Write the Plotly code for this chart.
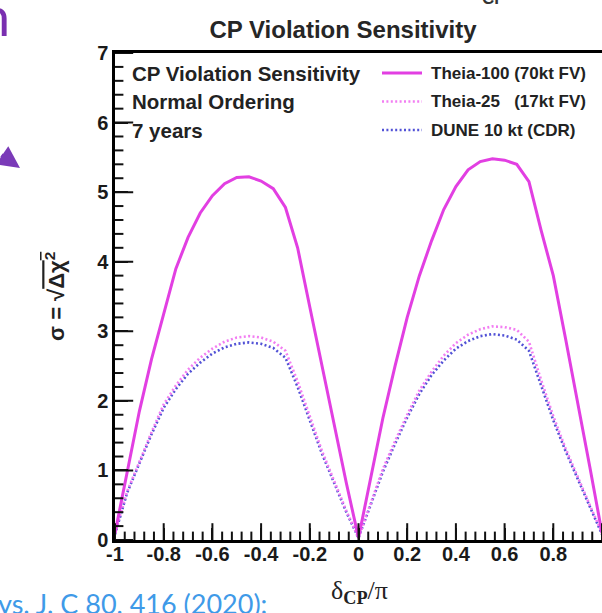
import plotly.graph_objects as go

# ---------------- data ----------------
delta_cp = [-1.00, -0.95, -0.90, -0.85, -0.80, -0.75, -0.70, -0.65, -0.60, -0.55,
            -0.50, -0.45, -0.40, -0.35, -0.30, -0.25, -0.20, -0.15, -0.10, -0.05,
            0.00, 0.05, 0.10, 0.15, 0.20, 0.25, 0.30, 0.35, 0.40, 0.45,
            0.50, 0.55, 0.60, 0.65, 0.70, 0.75, 0.80, 0.85, 0.90, 0.95, 1.00]

theia100 = [0.10, 1.00, 1.85, 2.60, 3.25, 3.90, 4.35, 4.70, 4.95, 5.12,
            5.21, 5.22, 5.16, 5.05, 4.78, 4.20, 3.35, 2.50, 1.65, 0.82,
            0.03, 0.90, 1.75, 2.50, 3.20, 3.80, 4.30, 4.75, 5.08, 5.32,
            5.44, 5.48, 5.46, 5.40, 5.15, 4.45, 3.80, 2.90, 2.00, 1.05, 0.10]

theia25 = [0.10, 0.70, 1.12, 1.55, 1.95, 2.22, 2.45, 2.62, 2.75, 2.85,
           2.91, 2.93, 2.91, 2.85, 2.72, 2.28, 1.78, 1.28, 0.85, 0.42,
           0.03, 0.52, 1.02, 1.42, 1.80, 2.15, 2.42, 2.65, 2.83, 2.95,
           3.03, 3.07, 3.06, 3.02, 2.85, 2.30, 1.78, 1.32, 0.90, 0.50, 0.10]

dune10 = [0.08, 0.68, 1.10, 1.52, 1.90, 2.17, 2.39, 2.55, 2.68, 2.77,
          2.82, 2.84, 2.82, 2.76, 2.62, 2.20, 1.72, 1.24, 0.82, 0.40,
          0.03, 0.50, 0.98, 1.38, 1.76, 2.10, 2.37, 2.58, 2.75, 2.86,
          2.93, 2.96, 2.94, 2.88, 2.72, 2.22, 1.72, 1.28, 0.87, 0.48, 0.08]

series_names = ["Theia-100 (70kt FV)", "Theia-25   (17kt FV)", "DUNE 10 kt (CDR)"]
info_lines = ["CP Violation Sensitivity", "Normal Ordering", "7 years"]

x_tickvals = [-1, -0.8, -0.6, -0.4, -0.2, 0, 0.2, 0.4, 0.6, 0.8, 1]
x_ticktext = ["-1", "-0.8", "-0.6", "-0.4", "-0.2", "0", "0.2", "0.4", "0.6", "0.8", "1"]
y_tickvals = [0, 1, 2, 3, 4, 5, 6, 7]

# minor tick positions (5 subdivisions between labelled ticks)
x_minor = [round(-1 + 0.04 * i, 2) for i in range(51) if i % 5]
y_minor = [round(0.2 * i, 1) for i in range(36) if i % 5]

# ---------------- layout geometry ----------------
W, H = 602, 613
L, R, T, B = 115, 0, 53, 73
PW, PH = W - L - R, H - T - B

def px(xp):
    return (xp - L) / PW

def py(yp):
    return (H - B - yp) / PH

C100 = "#e23fe2"
C25 = "#f27ef2"
CDUNE = "#5252d6"
TICKC = "#111"

fig = go.Figure()
fig.add_trace(go.Scatter(x=delta_cp, y=dune10, mode="lines", name=series_names[2],
                         line=dict(color=CDUNE, width=2.6, dash="2px,2.4px")))
fig.add_trace(go.Scatter(x=delta_cp, y=theia25, mode="lines", name=series_names[1],
                         line=dict(color=C25, width=2.6, dash="2px,2.4px")))
fig.add_trace(go.Scatter(x=delta_cp, y=theia100, mode="lines", name=series_names[0],
                         line=dict(color=C100, width=3)))

# inward tick marks on the frame (half of each marker is clipped by the axes)
def tick_marks(xs, ys, symbol, size):
    fig.add_trace(go.Scatter(x=xs, y=ys, mode="markers", hoverinfo="skip", showlegend=False,
                             cliponaxis=True,
                             marker=dict(symbol=symbol, size=size, color=TICKC,
                                         line=dict(width=2, color=TICKC))))

tick_marks(x_tickvals, [0] * len(x_tickvals), "line-ns", 24)
tick_marks(x_minor, [0] * len(x_minor), "line-ns", 12)
tick_marks([-1] * len(y_tickvals), y_tickvals, "line-ew", 26)
tick_marks([-1] * len(y_minor), y_minor, "line-ew", 12)

tickfont = dict(family="Liberation Sans, Arial, sans-serif", size=20, color="#1a1a1a", weight="bold")

fig.update_layout(
    template="none",
    width=W, height=H,
    margin=dict(l=L, r=R, t=T, b=B, autoexpand=False),
    paper_bgcolor="white", plot_bgcolor="white",
    showlegend=False,
    title=dict(text="<b>CP Violation Sensitivity</b>", x=343 / W, xanchor="center",
               y=1 - 30 / H, yanchor="middle", yref="container",
               font=dict(family="Liberation Sans, Arial, sans-serif", size=24, color="#262626")),
    xaxis=dict(range=[-1, 1], tickmode="array", tickvals=x_tickvals, ticktext=x_ticktext,
               ticks="inside", ticklen=12, tickwidth=2, tickcolor=TICKC, ticklabelstandoff=-6,
               showline=True, linecolor="black", linewidth=2.5, mirror=True,
               showgrid=False, zeroline=False, tickfont=tickfont),
    yaxis=dict(range=[0, 7], tickmode="array", tickvals=y_tickvals,
               ticks="inside", ticklen=13, tickwidth=2, tickcolor=TICKC,
               showline=True, linecolor="black", linewidth=2.5,
               showgrid=False, zeroline=False, tickfont=tickfont),
)

ann = []
# info text block
for i, t in enumerate(info_lines):
    ann.append(dict(x=px(130), y=py(73 + 28.5 * i), xref="paper", yref="paper",
                    text=f"<b>{t}</b>", showarrow=False, xanchor="left", yanchor="middle",
                    font=dict(family="Liberation Sans, Arial, sans-serif", size=20.5, color="#222")))
# legend
leg_colors = [C100, C25, CDUNE]
leg_dash = ["solid", "dot", "dot"]
shapes = []
for i, (nm, c, d) in enumerate(zip(series_names, leg_colors, leg_dash)):
    yy = 73 + 28.5 * i
    shapes.append(dict(type="line", xref="paper", yref="paper", x0=px(382), x1=px(422),
                       y0=py(yy), y1=py(yy),
                       line=dict(color=c, width=3 if d == "solid" else 2.4,
                                 dash="solid" if d == "solid" else "2px,2.4px")))
    ann.append(dict(x=px(429), y=py(yy), xref="paper", yref="paper",
                    text=f"<b>{nm}</b>", showarrow=False, xanchor="left", yanchor="middle",
                    font=dict(family="Liberation Sans, Arial, sans-serif", size=17, color="#222")))

# axis titles
ann.append(dict(x=px(359), y=py(592), xref="paper", yref="paper",
                text="δ<sub><b>CP</b></sub>/π", showarrow=False, xanchor="center", yanchor="middle",
                font=dict(family="Liberation Serif, Times New Roman, serif", size=26, color="#222")))
ann.append(dict(x=px(55), y=py(297), xref="paper", yref="paper", textangle=-90,
                text="<b>σ = √<span style='text-decoration:overline'>Δχ<sup>2</sup></span></b>",
                showarrow=False, xanchor="center", yanchor="middle",
                font=dict(family="Liberation Sans, Arial, sans-serif", size=22, color="#222")))

# slide fragments around the chart
ann.append(dict(x=px(12), y=py(15), xref="paper", yref="paper", text="n", showarrow=False,
                xanchor="right", yanchor="middle",
                font=dict(family="Lato, sans-serif", size=54, color="#7a2fb0")))
ann.append(dict(x=px(20), y=py(168), ax=-32, ay=-14, xref="paper", yref="paper",
                axref="pixel", ayref="pixel", text="", showarrow=True, arrowhead=2,
                arrowsize=1.1, arrowwidth=4, arrowcolor="#7a3ab8"))
ann.append(dict(x=px(-4), y=py(603), xref="paper", yref="paper",
                text="ys. J. C 80, 416 (2020):", showarrow=False, xanchor="left", yanchor="middle",
                font=dict(family="Lato, sans-serif", size=27, color="#3f9ae8")))
ann.append(dict(x=px(494), y=py(-2), xref="paper", yref="paper", text="<b>CP</b>", showarrow=False,
                xanchor="center", yanchor="middle",
                font=dict(family="Liberation Sans, Arial, sans-serif", size=17, color="#333")))

fig.update_layout(annotations=ann, shapes=shapes)
fig.write_html("out.html", config={"displayModeBar": False},
               post_script="document.body.style.margin='0';document.body.style.overflow='hidden';")
